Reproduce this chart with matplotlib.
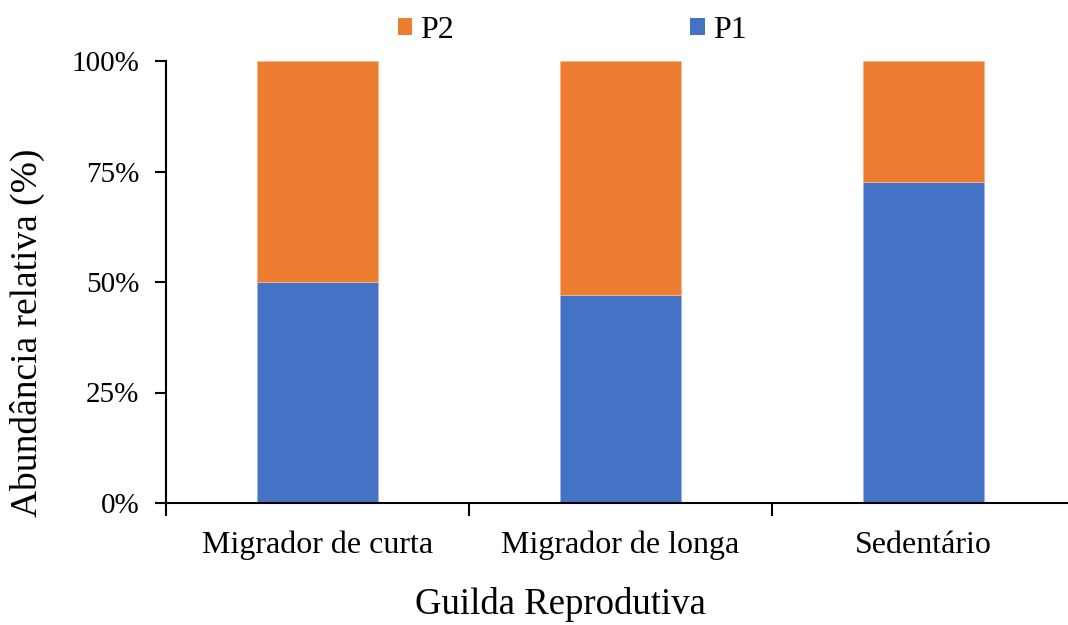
import matplotlib.pyplot as plt
import numpy as np
from matplotlib import rcParams
from matplotlib.patches import Patch
from matplotlib.ticker import FixedLocator, FuncFormatter

rcParams['font.family'] = ['Liberation Serif', 'DejaVu Serif']

categories = ['Migrador de curta', 'Migrador de longa', 'Sedentário']
p1 = [50.0, 47.1, 72.7]
p2 = [50.0, 52.9, 27.3]
series_names = ['P2', 'P1']
yticks = [0, 25, 50, 75, 100]

blue = '#4472C4'
orange = '#ED7D31'

fig = plt.figure(figsize=(10.68, 6.25), dpi=100)
ax = fig.add_axes([166 / 1068, 122 / 625, 909 / 1068, 442 / 625])

x = np.arange(len(categories))
ax.bar(x, p1, width=0.4, color=blue, edgecolor='#9fb6e0', linewidth=0.6)
ax.bar(x, p2, bottom=p1, width=0.4, color=orange, edgecolor='#f5b88f', linewidth=0.6)

ax.set_xlim(-0.5, len(categories) - 0.5)
ax.set_ylim(0, 100)

ax.set_yticks(yticks)
ax.yaxis.set_major_formatter(FuncFormatter(lambda v, p: f'{v:.0f}%'))
ax.set_xticks(x)
ax.set_xticklabels(categories)
ax.tick_params(axis='x', length=0, pad=20, labelsize=23)
ax.xaxis.set_minor_locator(FixedLocator(np.arange(-0.5, len(categories), 1.0)))
ax.tick_params(axis='x', which='minor', length=9, width=1.5, direction='out')
ax.tick_params(axis='y', length=8, width=1.5, direction='out', pad=11, labelsize=21)

for s in ['top', 'right']:
    ax.spines[s].set_visible(False)
for s in ['left', 'bottom']:
    ax.spines[s].set_linewidth(1.5)

ax.set_ylabel('Abundância relativa (%)', fontsize=27)
ax.yaxis.set_label_coords(-0.133, 0.385)
ax.set_xlabel('Guilda Reprodutiva', fontsize=26.5)
ax.xaxis.set_label_coords(0.4334, -0.19)

handles = [Patch(facecolor=orange, label=series_names[0]),
           Patch(facecolor=blue, label=series_names[1])]
fig.legend(handles=handles, loc='center', bbox_to_anchor=(572 / 1068, 1 - 30 / 625),
           ncol=2, frameon=False, fontsize=23, handlelength=0.45, handleheight=0.45,
           handletextpad=0.25, columnspacing=7.4, borderpad=0, borderaxespad=0)

fig.savefig('out.png', dpi=100)
